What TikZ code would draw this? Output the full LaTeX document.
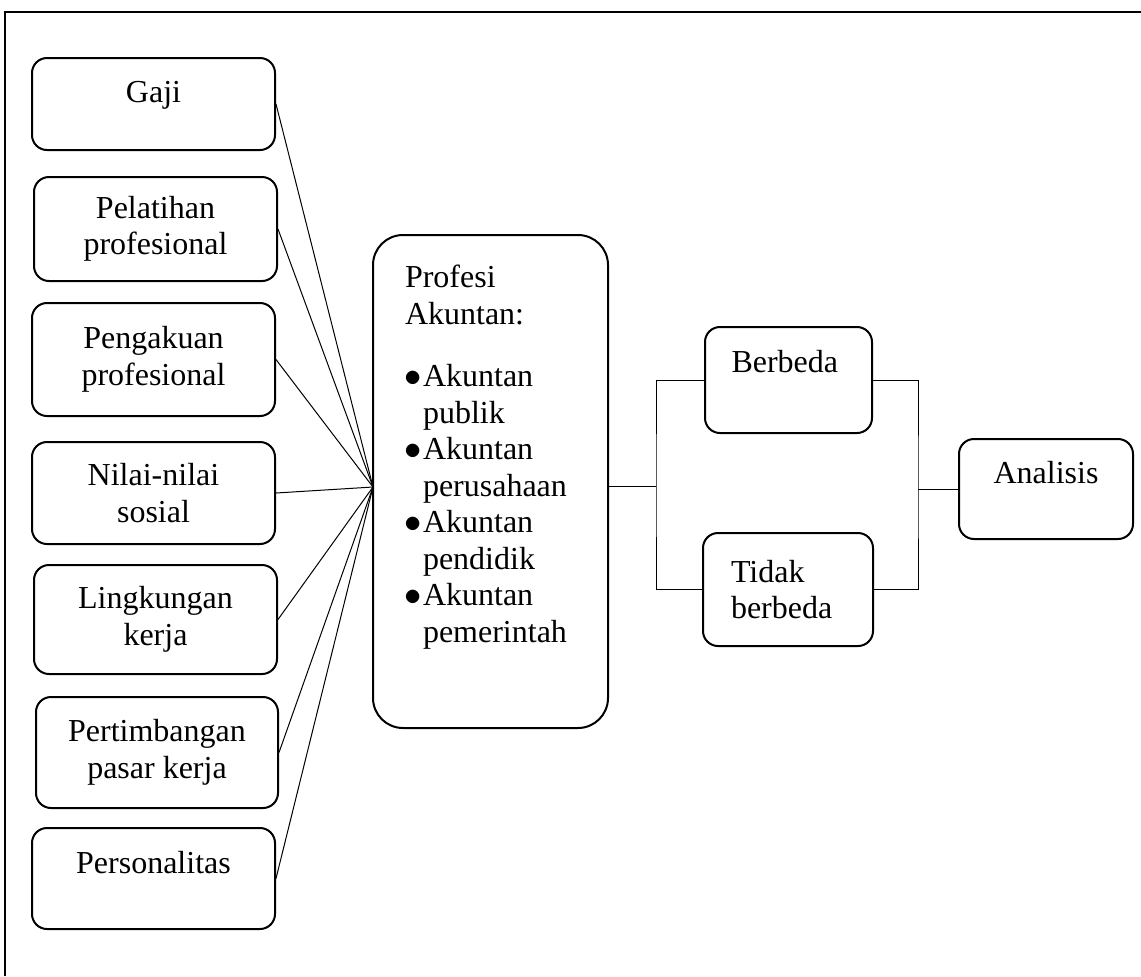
\documentclass[tikz,border=0pt]{standalone}
\usepackage{fontspec}
\setmainfont{Liberation Serif}
\usepackage{tikz}

\begin{document}
\begin{tikzpicture}[
  x=0.5pt,y=-0.5pt,
  box/.style={draw,line width=1pt,rounded corners=7.5pt,minimum width=121.5pt,
    align=center,inner sep=2pt,font=\fontsize{16}{18.25}\selectfont},
  sidebox/.style={draw,line width=1pt,rounded corners=7.5pt,minimum width=83.5pt,
    text width=57pt,inner xsep=13pt,align=left,font=\fontsize{16}{18.25}\selectfont},
  profbox/.style={draw,line width=1pt,rounded corners=15pt,minimum width=117.5pt,
    minimum height=246.5pt,text width=85.5pt,inner xsep=16pt,align=left,
    font=\fontsize{16}{18.25}\selectfont},
  onerow/.style={text height=11pt,text depth=#1},
  link/.style={line width=0.5pt},
  frame/.style={line width=1pt}
]
  \useasboundingbox (0,0) rectangle (1141,976);
  \draw[frame] (5,976) -- (5,12) -- (1141,12);

  % faktor-faktor
  \node[box,onerow=13pt,minimum height=46pt] (gaji) at (153.5,104) {Gaji};
  \node[box,minimum height=52pt] (pelatihan) at (155.5,229) {Pelatihan\\profesional};
  \node[box,minimum height=56.5pt] (pengakuan) at (153.5,359.5) {Pengakuan\\profesional};
  \node[box,minimum height=51pt] (nilai) at (153.5,493) {Nilai-nilai\\sosial};
  \node[box,minimum height=54.5pt] (lingkungan) at (155.5,619.5) {Lingkungan\\kerja};
  \node[box,minimum height=55.5pt,minimum width=121pt] (pasar) at (157,752.5) {Pertimbangan\\pasar kerja};
  \node[box,onerow=16.5pt,minimum height=50.5pt] (personal) at (153.5,878.5) {Personalitas};

  % profesi akuntan
  \node[profbox] (profesi) at (490.5,481.5) {Profesi\\Akuntan:\\[13pt]
    \makebox[8pt]{$\bullet$}\hspace{1pt}Akuntan\\\hspace*{9pt}publik\\
    \makebox[8pt]{$\bullet$}\hspace{1pt}Akuntan\\\hspace*{9pt}perusahaan\\
    \makebox[8pt]{$\bullet$}\hspace{1pt}Akuntan\\\hspace*{9pt}pendidik\\
    \makebox[8pt]{$\bullet$}\hspace{1pt}Akuntan\\\hspace*{9pt}pemerintah\\[9.75pt]~};
  \coordinate (hub) at (373,487);

  % hasil
  \node[sidebox,onerow=19pt,minimum height=53pt] (berbeda) at (788.5,380) {Berbeda};
  \node[sidebox,minimum height=56.5pt,minimum width=85pt] (tidak) at (788,589.5) {Tidak\\berbeda};
  \node[box,onerow=17pt,minimum width=87pt,minimum height=50pt] (analisis) at (1046,489) {Analisis};
  \coordinate (fork) at (656,486);
  \coordinate (join) at (918,489);

  \draw[link] (gaji.east) -- (hub);
  \draw[link] (pelatihan.east) -- (hub);
  \draw[link] (pengakuan.east) -- (hub);
  \draw[link] (nilai.east) -- (hub);
  \draw[link] (lingkungan.east) -- (hub);
  \draw[link] (pasar.east) -- (hub);
  \draw[link] (personal.east) -- (hub);
  \draw[link] (profesi.east |- fork) -- (fork);
  \draw[link] (berbeda.west) -| (fork) |- (tidak.west);
  \draw[link] (berbeda.east) -| (join) |- (tidak.east);
  \draw[link] (join) -- (analisis.west);
\end{tikzpicture}
\end{document}
